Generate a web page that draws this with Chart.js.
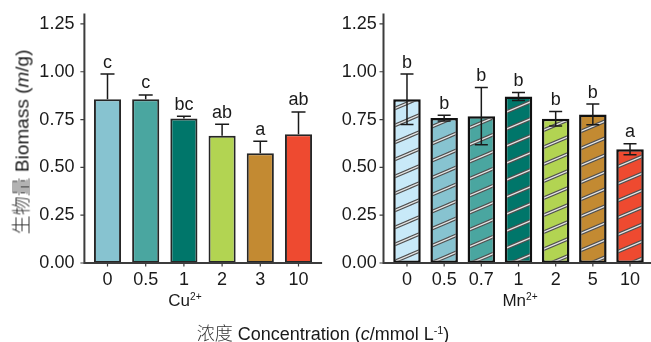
<!DOCTYPE html>
<html>
<head>
<meta charset="utf-8">
<script src="https://cdn.jsdelivr.net/npm/chart.js@4/dist/chart.umd.min.js"></script>
<style>
  body { margin: 0; background: #fff; }
  #wrap { position: relative; width: 651px; height: 342px; background: #fff; overflow: hidden;
          font-family: 'Liberation Sans', Arial, 'Noto Sans CJK SC', sans-serif; color: #1a1a1a; }
  canvas { position: absolute; top: 0; }
  .lbl { position: absolute; white-space: nowrap; font-size: 17px; transform: translate(-50%, -50%); }
  .lbl sup { font-size: 0.6em; vertical-align: 0.55em; line-height: 0; }
  .cjk { font-weight: 300; color: #333; }
  #ytitle { left: 20px; top: 142px; font-size: 19px; transform: translate(-50%, -50%) rotate(-90deg); }
  #xtitle { font-size: 18px; }
</style>
</head>
<body>
<div id="wrap">
  <canvas id="cuChart" width="330" height="342" style="left:0"></canvas>
  <canvas id="mnChart" width="321" height="342" style="left:330px"></canvas>
  <div class="lbl" id="ytitle"><span class="cjk">生物量</span> Biomass (<i>m</i>/g)</div>
  <div class="lbl" style="left:185px; top:301px">Cu<sup>2+</sup></div>
  <div class="lbl" style="left:520px; top:301px">Mn<sup>2+</sup></div>
  <div class="lbl" id="xtitle" style="left:323px; top:332px"><span class="cjk">浓度</span> Concentration (<i>c</i>/mmol L<sup>-1</sup>)</div>
</div>
<script>
// data
const cuLabels = ['0', '0.5', '1', '2', '3', '10'];
const cuMeans = [0.856, 0.856, 0.755, 0.665, 0.574, 0.673];
const cuSD = [0.132, 0.023, 0.012, 0.061, 0.063, 0.117];
const cuLetters = ['c', 'c', 'bc', 'ab', 'a', 'ab'];

const mnLabels = ['0', '0.5', '0.7', '1', '2', '5', '10'];
const mnMeans = [0.856, 0.758, 0.768, 0.871, 0.754, 0.777, 0.595];
const mnSD = [0.132, 0.015, 0.150, 0.021, 0.038, 0.054, 0.029];
const mnLetters = ['b', 'b', 'b', 'b', 'b', 'b', 'a'];

const yTicks = [0, 0.25, 0.5, 0.75, 1.0, 1.25];

const cuColors = ['#87c3d0', '#4aa6a0', '#00766a', '#b2d452', '#c38a32', '#ee4a30'];
const mnColors = ['#c8e9f8', '#87c3d0', '#4aa6a0', '#00766a', '#b2d452', '#c38a32', '#ee4a30'];

const FONT = "'Liberation Sans', Arial, sans-serif";
const AXIS = '#3c3c3c';

// diagonal stripe fill for the Mn2+ bars
function hatch(color) {
  const c = document.createElement('canvas');
  c.width = 40; c.height = 17;
  const g = c.getContext('2d');
  g.fillStyle = color;
  g.fillRect(0, 0, 40, 17);
  [[3.6, '#505050'], [1.2, '#e6e6e6']].forEach(([w, col]) => {
    g.strokeStyle = col;
    g.lineWidth = w;
    g.beginPath();
    for (let k = -1; k <= 1; k++) {
      for (let dy = -17; dy <= 17; dy += 17) {
        g.moveTo(k * 40, 17 + dy);
        g.lineTo(k * 40 + 40, dy);
      }
    }
    g.stroke();
  });
  return g.createPattern(c, 'repeat');
}

// axis lines, ticks, error bars and letters
const extras = {
  id: 'extras',
  afterDatasetsDraw(chart) {
    const o = chart.options.plugins.extras;
    const ctx = chart.ctx;
    const a = chart.chartArea;
    const ys = chart.scales.y;
    const meta = chart.getDatasetMeta(0);
    ctx.save();

    // error bars
    ctx.strokeStyle = '#1a1a1a';
    ctx.lineWidth = 1.5;
    meta.data.forEach((bar, i) => {
      const m = o.means[i], s = o.sd[i];
      const yTop = ys.getPixelForValue(m + s);
      const yBot = o.below ? ys.getPixelForValue(m - s) : ys.getPixelForValue(m);
      const x = bar.x, cw = o.cap / 2;
      ctx.beginPath();
      ctx.moveTo(x, yTop); ctx.lineTo(x, yBot);
      ctx.moveTo(x - cw, yTop); ctx.lineTo(x + cw, yTop);
      if (o.below) { ctx.moveTo(x - cw, yBot); ctx.lineTo(x + cw, yBot); }
      ctx.stroke();
      ctx.fillStyle = '#1a1a1a';
      ctx.font = '18px ' + FONT;
      ctx.textAlign = 'center';
      ctx.textBaseline = 'alphabetic';
      ctx.fillText(o.letters[i], x, yTop - 6.5);
    });

    // axes
    const ax = a.left - o.gap;
    ctx.strokeStyle = AXIS;
    ctx.lineWidth = 2;
    ctx.beginPath();
    ctx.moveTo(ax, a.top - 1);
    ctx.lineTo(ax, a.bottom);
    ctx.lineTo(a.right + 4.5, a.bottom);
    ctx.stroke();
    ctx.lineWidth = 1.2;
    ctx.beginPath();
    yTicks.forEach(v => {
      const y = ys.getPixelForValue(v);
      ctx.moveTo(ax - 4, y); ctx.lineTo(ax, y);
    });
    meta.data.forEach(bar => {
      ctx.moveTo(bar.x, a.bottom); ctx.lineTo(bar.x, a.bottom + 3.5);
    });
    ctx.stroke();
    ctx.restore();
  }
};

function makeChart(id, labels, means, sd, letters, fills, opt) {
  return new Chart(document.getElementById(id), {
    type: 'bar',
    data: {
      labels: labels,
      datasets: [{
        data: means,
        backgroundColor: fills,
        borderColor: opt.border,
        borderWidth: opt.borderWidth,
        borderSkipped: false,
        categoryPercentage: 1,
        barPercentage: opt.barPct
      }]
    },
    options: {
      responsive: false,
      animation: false,
      layout: { padding: { top: 14.4, right: opt.right, bottom: 0, left: 0 } },
      plugins: {
        legend: { display: false },
        tooltip: { enabled: false },
        extras: { means: means, sd: sd, letters: letters, below: opt.below, cap: opt.cap, gap: opt.gap }
      },
      scales: {
        x: {
          offset: true,
          grid: { display: false, drawTicks: false },
          border: { display: false },
          ticks: { autoSkip: false, maxRotation: 0, padding: 6, color: '#1a1a1a', font: { family: FONT, size: 18 } },
          afterFit: s => { s.height = 79; s.paddingLeft = 0; s.paddingRight = 0; }
        },
        y: {
          min: 0,
          max: 1.3,
          grid: { display: false, drawTicks: false },
          border: { display: false },
          afterBuildTicks: s => { s.ticks = yTicks.map(v => ({ value: v })); },
          ticks: { padding: opt.tickPad, color: '#1a1a1a', font: { family: FONT, size: 18 },
                   callback: v => v.toFixed(2) },
          afterFit: s => { s.width = opt.left; s.paddingTop = 0; s.paddingBottom = 0; }
        }
      }
    },
    plugins: [extras]
  });
}

makeChart('cuChart', cuLabels, cuMeans, cuSD, cuLetters, cuColors,
  { border: '#262626', borderWidth: 2, barPct: 0.71, left: 88.4, right: 12.4,
    tickPad: 14, below: false, cap: 14, gap: 4 });

makeChart('mnChart', mnLabels, mnMeans, mnSD, mnLetters, mnColors.map(hatch),
  { border: '#111111', borderWidth: 2.5, barPct: 0.74, left: 58.4, right: 2.4,
    tickPad: 11.7, below: true, cap: 13, gap: 4.9 });
</script>
</body>
</html>
